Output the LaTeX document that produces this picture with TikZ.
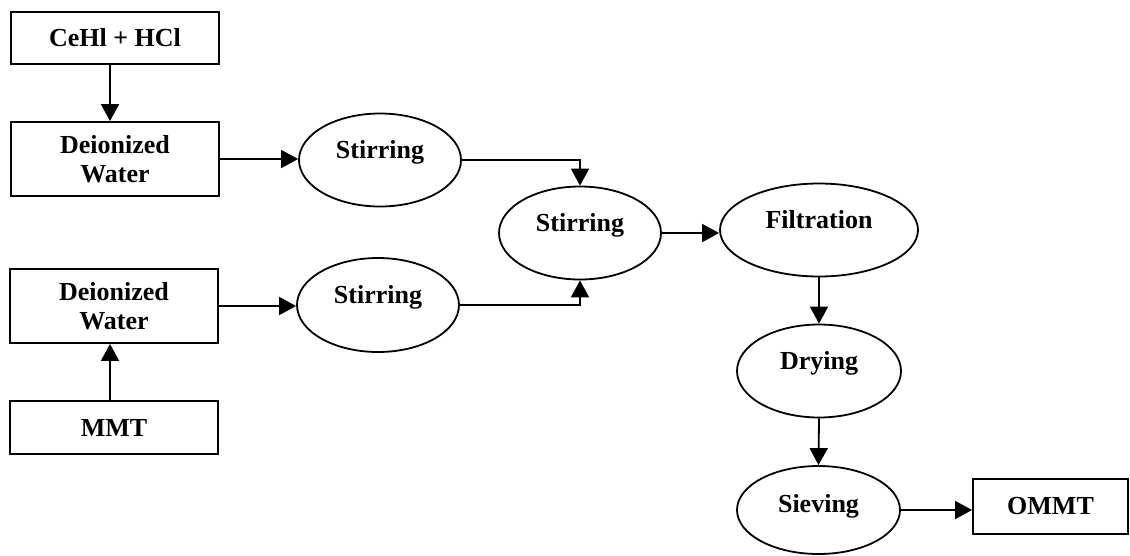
\documentclass[tikz,border=0pt]{standalone}
\usepackage{fontspec}
\setmainfont{Liberation Serif}
\usetikzlibrary{arrows.meta,shapes.geometric,calc}
\begin{document}
\begin{tikzpicture}[x=1pt,y=-1pt,
  every node/.style={font=\bfseries\fontsize{26}{29}\selectfont},
  boxnode/.style={draw=black,line width=1.8pt,rectangle,inner sep=0pt,align=center},
  procnode/.style={draw=black,line width=1.8pt,ellipse,inner sep=0pt},
  lbl/.style={anchor=base,inner sep=0pt},
  arr/.style={line width=1.8pt,-{Triangle[length=17pt,width=18pt]}}]
\useasboundingbox (0,0) rectangle (1130,555);
% boxes
\node[boxnode,minimum width=208pt,minimum height=52pt] (cehl) at (115,38) {CeHl + HCl};
\node[boxnode,minimum width=208pt,minimum height=74pt] (dw1) at (115,159) {Deionized\\Water};
\node[boxnode,minimum width=208pt,minimum height=74pt] (dw2) at (114,306) {Deionized\\Water};
\node[boxnode,minimum width=208pt,minimum height=53pt] (mmt) at (114,427.5) {MMT};
\node[boxnode,minimum width=155pt,minimum height=55pt] (ommt) at (1050.5,506.5) {OMMT};
% ellipses
\node[procnode,minimum width=162pt,minimum height=93pt] (s1) at (380,160) {};
\node[procnode,minimum width=162pt,minimum height=94pt] (s2) at (378,305) {};
\node[procnode,minimum width=162pt,minimum height=93pt] (s3) at (580,233) {};
\node[procnode,minimum width=198pt,minimum height=93pt] (filt) at (819,230) {};
\node[procnode,minimum width=164pt,minimum height=93pt] (dry) at (819,371) {};
\node[procnode,minimum width=163pt,minimum height=88pt] (siev) at (818.5,510) {};
% ellipse labels
\node[lbl] (s1t) at ([yshift=2pt]s1.center) {Stirring};
\node[lbl] (s2t) at ([yshift=2pt]s2.center) {Stirring};
\node[lbl] (s3t) at ([yshift=2pt]s3.center) {Stirring};
\node[lbl] (filtt) at ([yshift=2pt]filt.center) {Filtration};
\node[lbl] (dryt) at ([yshift=2pt]dry.center) {Drying};
\node[lbl] (sievt) at ([yshift=-2pt]siev.center) {Sieving};
% connectors
\coordinate (ax) at (110,0);
\draw[arr] (cehl.south -| ax) -- (dw1.north -| ax);
\draw[arr] (mmt.north -| ax) -- (dw2.south -| ax);
\draw[arr] (dw1.east) -- (dw1.east -| s1.west);
\draw[arr] (dw2.east) -- (dw2.east -| s2.west);
\draw[arr] (s1.east) -| (s3.north);
\draw[arr] (s2.east) -| (s3.south);
\draw[arr] (s3.east) -- (s3.east -| filt.west);
\draw[arr] (filt.south) -- (dry.north);
\draw[arr] (dry.south) -- (siev.north);
\draw[arr] (siev.east) -- (siev.east -| ommt.west);
\end{tikzpicture}
\end{document}
